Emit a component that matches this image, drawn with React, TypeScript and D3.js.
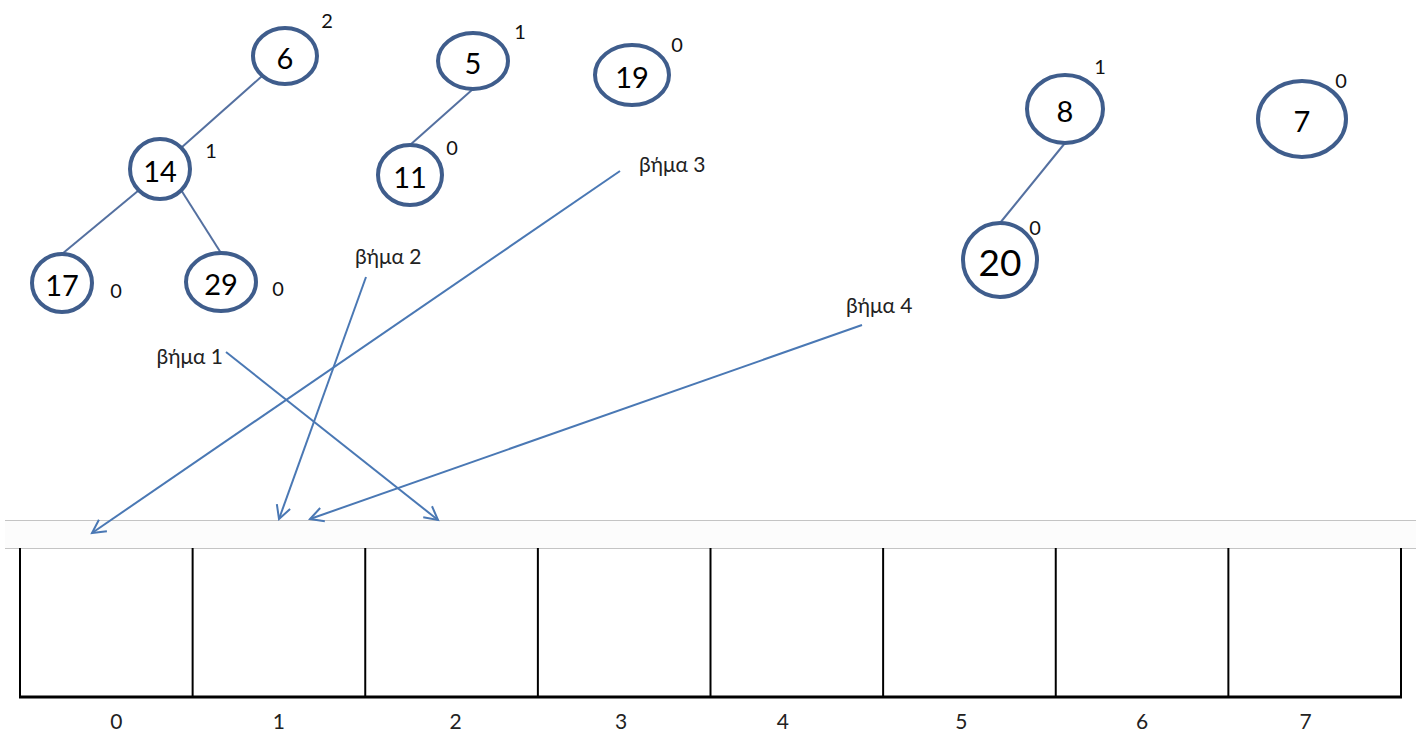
import React from "react";
import * as d3 from "d3";

// ---- data ----
const nodeKeys = ["6", "14", "17", "29", "5", "11", "19", "8", "20", "7"];
const nodeRanks = [2, 1, 0, 0, 1, 0, 0, 1, 0, 0];
const edges: [string, string, string, string][] = [
  ["6", "14", "bl", "tr"],
  ["14", "17", "bl", "t"],
  ["14", "29", "br", "t"],
  ["5", "11", "b", "t"],
  ["8", "20", "b", "t"],
];
const stepLabels = ["βήμα 1", "βήμα 2", "βήμα 3", "βήμα 4"];
const cellIndex = ["0", "1", "2", "3", "4", "5", "6", "7"];

// ---- layout ----
const W = 1423, H = 733;
const nodeLayout: Record<string, { cx: number; cy: number; rx: number; ry: number; fs: number; lx: number; ly: number }> = {
  "6": { cx: 285, cy: 56, rx: 32, ry: 28, fs: 29, lx: 327, ly: 20 },
  "14": { cx: 160, cy: 169, rx: 30, ry: 30, fs: 29, lx: 211, ly: 150 },
  "17": { cx: 62, cy: 283, rx: 30, ry: 29, fs: 29, lx: 116, ly: 290 },
  "29": { cx: 221, cy: 282, rx: 35, ry: 29, fs: 29, lx: 278, ly: 288 },
  "5": { cx: 473, cy: 61, rx: 35, ry: 28, fs: 29, lx: 520, ly: 31 },
  "11": { cx: 410, cy: 175, rx: 32, ry: 30, fs: 29, lx: 452, ly: 147 },
  "19": { cx: 632, cy: 75, rx: 37, ry: 30, fs: 29, lx: 677, ly: 44 },
  "8": { cx: 1065, cy: 109, rx: 38, ry: 34, fs: 29, lx: 1100, ly: 66 },
  "20": { cx: 1000, cy: 260, rx: 37, ry: 37, fs: 37, lx: 1035, ly: 227 },
  "7": { cx: 1302, cy: 119, rx: 44, ry: 38, fs: 29, lx: 1341, ly: 80 },
};
const stepLayout = [
  { tx: 223, ty: 355, anchor: "end", x1: 226, y1: 352, x2: 438, y2: 520 },
  { tx: 355, ty: 255, anchor: "start", x1: 366, y1: 277, x2: 279, y2: 519 },
  { tx: 639, ty: 163, anchor: "start", x1: 620, y1: 171, x2: 92, y2: 533 },
  { tx: 846, ty: 304, anchor: "start", x1: 862, y1: 325, x2: 310, y2: 519 },
];
const labelNudge = [10, 0, 4, -3, -14, -8, 0, -9];
const siteAngle: Record<string, number> = { t: -90, tr: -45, r: 0, br: 45, b: 90, bl: 135, l: 180 };

const FONT = "Lato, 'Open Sans', sans-serif";
const NODE_STROKE = "#3f5d8c";
const EDGE = "#5470a0";
const ARROW = "#4a78b4";

function site(k: string, s: string) {
  const n = nodeLayout[k];
  const a = (siteAngle[s] * Math.PI) / 180;
  return [n.cx + n.rx * Math.cos(a), n.cy + n.ry * Math.sin(a)];
}

export default function App() {
  const x = d3.scaleBand<string>().domain(cellIndex).range([20, 1401]).paddingInner(0).paddingOuter(0);
  const boxTop = 548, boxBottom = 697;
  const line = d3.line();

  return (
    <svg width={W} height={H} style={{ position: "absolute", left: 0, top: 0, background: "#fff" }} fontFamily={FONT}>
      {/* separators */}
      <rect x={5} y={521} width={1411} height={27} fill="#fcfcfc" />
      <line x1={5} x2={1416} y1={520.5} y2={520.5} stroke="#c4c4c4" strokeWidth={1} />
      <line x1={5} x2={1416} y1={548.5} y2={548.5} stroke="#c4c4c4" strokeWidth={1} />

      {/* array cells */}
      {cellIndex.map((c) => (
        <line key={"v" + c} x1={x(c)!} x2={x(c)!} y1={boxTop} y2={boxBottom} stroke="#000" strokeWidth={2} />
      ))}
      <line x1={x.range()[1]} x2={x.range()[1]} y1={boxTop} y2={boxBottom} stroke="#000" strokeWidth={2} />
      <line x1={19} x2={1402} y1={boxBottom} y2={boxBottom} stroke="#000" strokeWidth={3} />
      {cellIndex.map((c, i) => (
        <text key={"l" + c} x={x(c)! + x.bandwidth() / 2 + labelNudge[i]} y={720} fontSize={21} textAnchor="middle" dominantBaseline="central" fill="#222">
          {c}
        </text>
      ))}

      {/* edges */}
      {edges.map(([p, c, sp, sc]) => {
        const a = site(p, sp), b = site(c, sc);
        return <path key={p + c} d={line([a as [number, number], b as [number, number]])!} stroke={EDGE} strokeWidth={2} fill="none" />;
      })}

      {/* nodes */}
      {nodeKeys.map((k, i) => {
        const n = nodeLayout[k];
        return (
          <g key={k}>
            <ellipse cx={n.cx} cy={n.cy} rx={n.rx} ry={n.ry} fill="#fff" stroke={NODE_STROKE} strokeWidth={4} />
            <text x={n.cx} y={n.cy + 1} fontSize={n.fs} textAnchor="middle" dominantBaseline="central" fill="#000">
              {k}
            </text>
            <text x={n.lx} y={n.ly} fontSize={20} textAnchor="middle" dominantBaseline="central" fill="#111">
              {nodeRanks[i]}
            </text>
          </g>
        );
      })}

      {/* steps */}
      {stepLabels.map((s, i) => {
        const L = stepLayout[i];
        const ang = Math.atan2(L.y2 - L.y1, L.x2 - L.x1);
        const ah = 15, spread = (28 * Math.PI) / 180;
        const h1: [number, number] = [L.x2 - ah * Math.cos(ang - spread), L.y2 - ah * Math.sin(ang - spread)];
        const h2: [number, number] = [L.x2 - ah * Math.cos(ang + spread), L.y2 - ah * Math.sin(ang + spread)];
        return (
          <g key={s}>
            <path d={line([[L.x1, L.y1], [L.x2, L.y2]])!} stroke={ARROW} strokeWidth={2} fill="none" />
            <path d={line([h1, [L.x2, L.y2], h2])!} stroke={ARROW} strokeWidth={2} fill="none" strokeLinejoin="miter" />
            <text x={L.tx} y={L.ty} fontSize={21} textAnchor={L.anchor as any} dominantBaseline="central" fill="#222">
              {s}
            </text>
          </g>
        );
      })}
    </svg>
  );
}
